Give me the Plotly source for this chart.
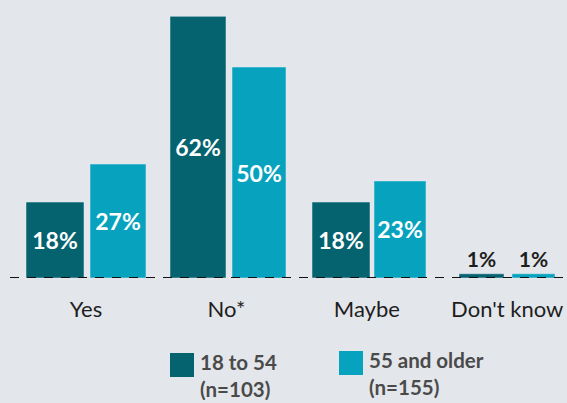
import plotly.graph_objects as go

categories = ["Yes", "No*", "Maybe", "Don't know"]
series_names = ["18 to 54", "55 and older"]
series_n = ["(n=103)", "(n=155)"]
young = [18, 62, 18, 1]
old = [27, 50, 23, 1]
colors = ["#05636f", "#07a3be"]

# --- layout / styling (pixels in the 567x403 picture) ---
W, H = 567, 403
ml, mr, mt, mb = 10, 0, 10, 125
px_per_unit = 140.4
x_first_center = 86
x0 = -(x_first_center - ml) / px_per_unit
x1 = x0 + (W - ml - mr) / px_per_unit
px_per_pct = 4.22
ytop = (H - mb - mt) / px_per_pct

# bar offsets / widths relative to each category centre, in px
bar_offsets_px = [[-60, -56.4, -54.8, -48.2], [4, 5.6, 7.2, 4.8]]
bar_widths_px = [[58, 56, 58, 45], [56, 54, 52, 43]]

FONT = "Lato"

fig = go.Figure()
for k, (vals, name, col) in enumerate(zip([young, old], series_names, colors)):
    fig.add_trace(go.Bar(
        x=categories, y=vals, name=name, marker_color=col,
        offset=[o / px_per_unit for o in bar_offsets_px[k]],
        width=[w / px_per_unit for w in bar_widths_px[k]],
        text=[f"{v}%" for v in vals],
        textposition=["inside" if v > 5 else "outside" for v in vals],
        insidetextanchor="middle",
        insidetextfont=dict(family=FONT, size=23, color="white", weight="bold"),
        outsidetextfont=dict(family=FONT, size=21, color="#1e1e1e", weight="bold"),
        textangle=0, cliponaxis=False, showlegend=False,
    ))

fig.add_shape(type="line", xref="paper", yref="y", x0=0, x1=1, y0=0, y1=0,
              line=dict(color="#111111", width=2.2, dash="9px,8px"), layer="above")

# custom legend
leg_x = [170, 339]
leg_y = [353, 351]
for i in range(2):
    fig.add_shape(type="rect", xref="paper", yref="paper",
                  x0=(leg_x[i] - ml) / (W - ml - mr), x1=(leg_x[i] + 24 - ml) / (W - ml - mr),
                  y0=(H - mb - leg_y[i] - 24) / (H - mb - mt), y1=(H - mb - leg_y[i]) / (H - mb - mt),
                  fillcolor=colors[i], line_width=0)
    cy = leg_y[i] + 22
    fig.add_annotation(xref="paper", yref="paper",
                       x=(leg_x[i] + 28 - ml) / (W - ml - mr),
                       y=(H - mb - cy) / (H - mb - mt),
                       text=f"{series_names[i]}<br>{series_n[i]}", showarrow=False,
                       xanchor="left", yanchor="middle", align="left",
                       font=dict(family=FONT, size=20.5, color="#4a4a4a", weight="bold"))

fig.update_layout(
    width=W, height=H, margin=dict(l=ml, r=mr, t=mt, b=mb),
    paper_bgcolor="#e3e6ea", plot_bgcolor="#e3e6ea",
    barmode="group",
    xaxis=dict(range=[x0, x1], showgrid=False, zeroline=False, showline=False,
               ticks="", tickfont=dict(family=FONT, size=22, color="#1e1e1e"),
               ticklabelstandoff=16),
    yaxis=dict(range=[0, ytop], visible=False),
    font=dict(family=FONT),
)
fig.write_html("out.html", config={"displayModeBar": False},
               post_script="document.body.style.margin='0';document.body.style.padding='0';document.body.style.overflow='hidden';")
